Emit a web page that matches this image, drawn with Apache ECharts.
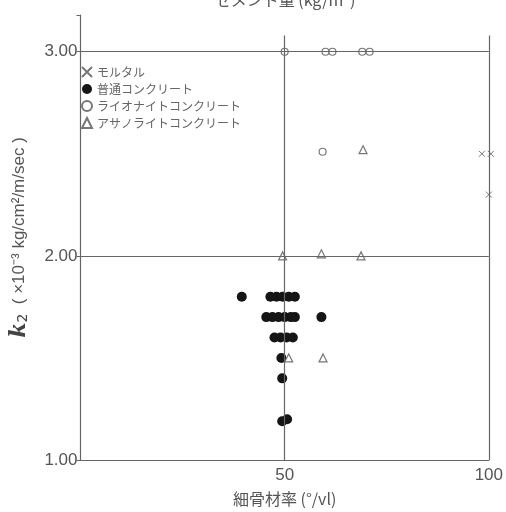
<!DOCTYPE html>
<html>
<head>
<meta charset="utf-8">
<script src="https://cdn.jsdelivr.net/npm/echarts@6/dist/echarts.min.js"></script>
<style>html,body{margin:0;padding:0;background:#fff;}#c{width:506px;height:512px;}</style>
</head>
<body>
<div id="c"></div>
<script>
// Data
const seriesNames = ['モルタル', '普通コンクリート', 'ライオナイトコンクリート', 'アサノライトコンクリート'];
const mortar = [[98.3, 2.50], [100.5, 2.50], [100, 2.30]];
const normalConcrete = [
  [39.5, 1.80], [46.5, 1.80], [48, 1.80], [49.5, 1.80], [51, 1.80], [52.5, 1.80],
  [45.5, 1.70], [47, 1.70], [48.5, 1.70], [50, 1.70], [51.5, 1.70], [52.5, 1.70], [59, 1.70],
  [47.5, 1.60], [49, 1.60], [50.5, 1.60], [52, 1.60],
  [49.2, 1.50], [49.4, 1.40], [49.4, 1.19], [50.6, 1.20]
];
const lionite = [[50, 3.00], [60, 3.00], [61.7, 3.00], [69, 3.00], [70.8, 3.00], [59.3, 2.51]];
const asanolite = [[49.5, 2.00], [59, 2.01], [68.7, 2.00], [69.2, 2.52], [51, 1.50], [59.4, 1.50]];
const xTicks = [50, 100];
const yTicks = [1, 2, 3];
const titleText = 'セメント量 (kg/m³)';
const xName = '細骨材率 (°/vl)';

const lineCol = '#666';
const textCol = '#555';
const chart = echarts.init(document.getElementById('c'));
chart.setOption({
  animation: false,
  backgroundColor: '#fff',
  grid: {left: 75, right: 16, top: 15, bottom: 47},
  graphic: [{type: 'text', x: 285, y: -8, style: {text: titleText, fill: textCol, font: '16px "Noto Sans CJK JP"', textAlign: 'center'}}],
  legend: {
    orient: 'vertical', left: 76, top: 61, itemGap: 5, itemWidth: 10, itemHeight: 10,
    data: seriesNames,
    textStyle: {color: '#666', fontSize: 12, fontFamily: 'Noto Sans CJK JP'}
  },
  xAxis: {
    type: 'value', min: 0, max: 100, interval: 50,
    name: xName, nameLocation: 'middle', nameGap: 31,
    nameTextStyle: {color: textCol, fontSize: 16, fontFamily: 'Noto Sans CJK JP'},
    axisLine: {show: true, lineStyle: {color: lineCol, width: 1.2}},
    axisTick: {show: false},
    splitLine: {show: false},
    axisLabel: {color: textCol, fontSize: 17, margin: 7, fontFamily: 'Liberation Sans',
      formatter: v => xTicks.includes(v) ? String(v) : ''}
  },
  yAxis: {
    type: 'value', min: 1, max: 3.18, interval: 1,
    name: '{k|k}{s|2}{t|  ( ×10⁻³ kg/cm²/m/sec )}', nameLocation: 'middle', nameGap: 50, nameRotate: 90,
    nameTextStyle: {rich: {
      k: {fontSize: 22, fontStyle: 'italic', fontWeight: 'bold', color: '#444', fontFamily: 'DejaVu Serif'},
      s: {fontSize: 14, color: '#444', verticalAlign: 'bottom', fontFamily: 'DejaVu Sans', padding: [9, 0, 0, 0]},
      t: {fontSize: 17, color: textCol, fontFamily: 'Liberation Sans'}
    }},
    axisLine: {show: true, lineStyle: {color: lineCol, width: 1.2}},
    axisTick: {show: true, length: 4, lineStyle: {color: lineCol}},
    splitLine: {show: false},
    axisLabel: {color: textCol, fontSize: 17, margin: 3, fontFamily: 'Liberation Sans',
      formatter: v => yTicks.includes(v) ? v.toFixed(2) : ''}
  },
  series: [
    {
      type: 'line', name: 'frame', data: [], silent: true,
      markLine: {
        silent: true, symbol: 'none', label: {show: false},
        lineStyle: {color: lineCol, width: 1.2, type: 'solid'},
        data: [
          [{coord: [0, 3]}, {coord: [100, 3]}],
          [{coord: [0, 2]}, {coord: [100, 2]}],
          [{coord: [50, 1]}, {coord: [50, 3.08]}],
          [{coord: [100, 1]}, {coord: [100, 3.08]}]
        ]
      }
    },
    {
      type: 'scatter', name: seriesNames[0], data: mortar, clip: false,
      symbol: 'path://M0,0L10,10M10,0L0,10', symbolSize: 6,
      itemStyle: {color: '#fff', borderColor: '#555', borderWidth: 1}
    },
    {
      type: 'scatter', name: seriesNames[1], data: normalConcrete, clip: false,
      symbol: 'circle', symbolSize: 10,
      itemStyle: {color: '#151515', opacity: 1}
    },
    {
      type: 'scatter', name: seriesNames[2], data: lionite, clip: false,
      symbol: 'circle', symbolSize: 7,
      itemStyle: {color: '#fff', borderColor: '#777', borderWidth: 1.2, opacity: 1}
    },
    {
      type: 'scatter', name: seriesNames[3], data: asanolite, clip: false,
      symbol: 'triangle', symbolSize: 8,
      itemStyle: {color: '#fff', borderColor: '#777', borderWidth: 1.2, opacity: 1}
    }
  ]
});
</script>
</body>
</html>
